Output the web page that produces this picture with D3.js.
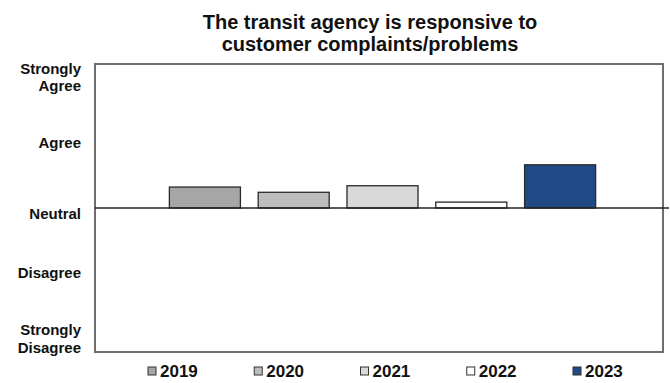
<!DOCTYPE html>
<html><head><meta charset="utf-8">
<script src="https://cdn.jsdelivr.net/npm/d3@7/dist/d3.min.js"></script>
<style>body{margin:0;background:#fff}svg{display:block}</style>
</head><body><div id="chart"></div>
<script>
const years = ["2019","2020","2021","2022","2023"];
const values = [0.32, 0.24, 0.34, 0.09, 0.66];
const colors = ["#a6a6a6","#bdbdbd","#d9d9d9","#ffffff","#1f4a86"];
const tickValues = [2, 1, 0, -1, -2];
const tickLabels = [["Strongly","Agree"],["Agree"],["Neutral"],["Disagree"],["Strongly","Disagree"]];
const title = ["The transit agency is responsive to","customer complaints/problems"];

const W = 670, H = 383;
const plot = {left: 95, right: 663, top: 64, bottom: 352};
const svg = d3.select("#chart").append("svg").attr("width", W).attr("height", H);
const font = "'Liberation Sans', Arial, sans-serif";

const y = d3.scaleLinear().domain([-2.2, 2.2]).range([plot.bottom, plot.top]);
const x = d3.scaleBand().domain(years).range([160.5, 604.5]).paddingInner(0.2).paddingOuter(0.1);

// title
svg.append("text").attr("x", 370).attr("y", 29).attr("text-anchor","middle")
  .attr("font-family", font).attr("font-weight","bold").attr("font-size", 20).attr("fill","#111")
  .selectAll("tspan").data(title).join("tspan").attr("x", 370).attr("dy",(d,i)=> i ? 22 : 0).text(d=>d);

// frame
svg.append("rect").attr("x", plot.left).attr("y", plot.top)
  .attr("width", plot.right - plot.left).attr("height", plot.bottom - plot.top)
  .attr("fill","none").attr("stroke","#6e6e6e").attr("stroke-width",2);

// bars
svg.append("g").selectAll("rect").data(years).join("rect")
  .attr("x", d => x(d)).attr("width", x.bandwidth())
  .attr("y", (d,i) => y(Math.max(0, values[i])))
  .attr("height", (d,i) => Math.abs(y(values[i]) - y(0)))
  .attr("fill", (d,i) => colors[i]).attr("stroke", "#2a2a2a").attr("stroke-width", 1.3);

// neutral line
svg.append("line").attr("x1", plot.left).attr("x2", plot.right + 6)
  .attr("y1", y(0)).attr("y2", y(0)).attr("stroke","#222").attr("stroke-width",1.5);

// y axis (ticks hidden, labels drawn below)
const yAxis = d3.axisLeft(y).tickValues(tickValues).tickSize(0).tickFormat("");
const ga = svg.append("g").attr("transform", `translate(${plot.left},0)`).call(yAxis);
ga.select(".domain").remove();
const lab = svg.append("g").selectAll("text").data(tickValues).join("text")
  .attr("text-anchor","end").attr("font-family", font).attr("font-weight","bold")
  .attr("font-size", 15).attr("fill","#111")
  .attr("transform", (d,i) => {
    const n = tickLabels[i].length;
    const off = (d === 0 ? 6 : 0) - (n - 1) * 8.5 + 5;
    return `translate(81,${y(d) + off})`;
  });
lab.selectAll("tspan").data((d,i) => tickLabels[i]).join("tspan")
  .attr("x", 0).attr("dy", (d,i) => i ? 17.5 : 0).text(d => d);

// legend
const legX = d3.scalePoint().domain(years).range([148, 573]);
const lg = svg.append("g").selectAll("g").data(years).join("g")
  .attr("transform", d => `translate(${legX(d)},371)`);
lg.append("rect").attr("x",0).attr("y",-4).attr("width",8).attr("height",8)
  .attr("fill",(d,i)=>colors[i]).attr("stroke","#333").attr("stroke-width",1);
lg.append("text").attr("x",12).attr("y",6).attr("font-family",font).attr("font-weight","bold")
  .attr("font-size",17).attr("fill","#111").text(d=>d);
</script></body></html>
